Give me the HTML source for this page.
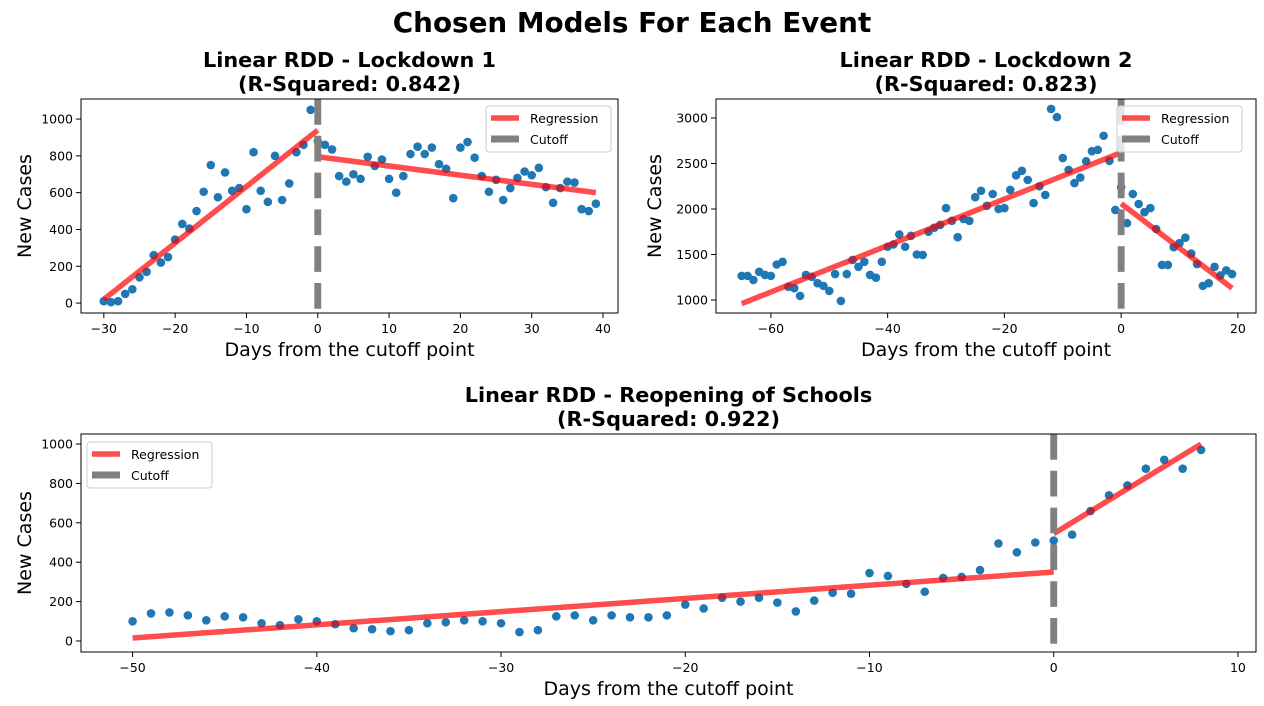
<!DOCTYPE html>
<html><head><meta charset="utf-8"><style>
html,body{margin:0;padding:0;background:#fff;}
svg{display:block;font-family:"DejaVu Sans","Liberation Sans",sans-serif;}
</style></head><body>
<svg id="fig" width="1264" height="706" viewBox="0 0 1264 706" xmlns="http://www.w3.org/2000/svg">
<text x="632" y="32" text-anchor="middle" font-size="27.8" font-weight="bold">Chosen Models For Each Event</text>
</svg>
<script>
// ---- Panel 1: Lockdown 1 ----
const days1 = [];
for (let d = -30; d <= 39; d++) days1.push(d);
const cases1 = [10,5,10,50,75,140,170,260,220,250,345,430,405,500,605,750,575,710,610,625,510,820,610,550,800,560,650,820,860,1050,
 880,860,835,690,660,700,675,795,745,780,675,600,690,810,850,810,845,755,730,570,845,875,790,690,605,670,560,625,680,715,695,735,630,545,625,660,655,510,500,540];
const regLeft1 = [[-30,20],[0,940]];
const regRight1 = [[0,795],[39,600]];
const xTicks1 = [-30,-20,-10,0,10,20,30,40];
const yTicks1 = [0,200,400,600,800,1000];

// ---- Panel 2: Lockdown 2 ----
const days2 = [];
for (let d = -65; d <= 19; d++) days2.push(d);
const cases2 = [1265,1265,1220,1310,1275,1265,1390,1420,1145,1130,1045,1275,1255,1185,1155,1100,1285,990,1285,1440,1365,1420,1275,1245,1420,
 1585,1610,1720,1585,1705,1500,1495,1750,1795,1825,2010,1870,1690,1890,1870,2130,2200,2035,2165,2000,2010,2210,2370,2420,2320,2065,2250,2155,
 3100,3010,2560,2430,2285,2345,2525,2635,2650,2805,2530,1990,
 2240,1845,2165,2055,1965,2010,1780,1385,1385,1580,1625,1685,1510,1395,1155,1185,1365,1270,1325,1285];
const regLeft2 = [[-65,960],[0,2620]];
const regRight2 = [[0,2060],[19,1130]];
const xTicks2 = [-60,-40,-20,0,20];
const yTicks2 = [1000,1500,2000,2500,3000];

// ---- Panel 3: Reopening of Schools ----
const days3 = [];
for (let d = -50; d <= 8; d++) days3.push(d);
const cases3 = [100,140,145,130,105,125,120,90,80,110,100,85,65,60,50,55,90,95,105,100,90,45,55,125,130,105,130,120,120,130,
 185,165,220,200,220,195,150,205,245,240,345,330,290,250,320,325,360,495,450,500,510,540,660,740,790,875,920,875,970];
const regLeft3 = [[-50,15],[0,350]];
const regRight3 = [[0,545],[8,1000]];
const xTicks3 = [-50,-40,-30,-20,-10,0,10];
const yTicks3 = [0,200,400,600,800,1000];

const NS = "http://www.w3.org/2000/svg";
const svg = document.getElementById("fig");
function mk(tag, attrs, parent) {
  const e = document.createElementNS(NS, tag);
  for (const k in attrs) e.setAttribute(k, attrs[k]);
  (parent || svg).appendChild(e);
  return e;
}

function panel(cfg) {
  const g = mk("g", {});
  
  
  const L = cfg.box[0], T = cfg.box[1], R = cfg.box[2], B = cfg.box[3];
  const sx = v => L + (v - cfg.xr[0]) / (cfg.xr[1] - cfg.xr[0]) * (R - L);
  const sy = v => B - (v - cfg.yr[0]) / (cfg.yr[1] - cfg.yr[0]) * (B - T);

  const t1 = mk("text", {x: (L+R)/2, y: T - 32, "text-anchor": "middle", "font-size": 20.8, "font-weight": "bold"}, g);
  t1.textContent = cfg.title1;
  
  
  const t2 = mk("text", {x: (L+R)/2, y: T - 8, "text-anchor": "middle", "font-size": 20.8, "font-weight": "bold"}, g);
  t2.textContent = cfg.title2;
  
  

  cfg.xs.forEach((d, i) => {
    const c = mk("circle", {cx: sx(d), cy: sy(cfg.ys[i]), r: 4.3, fill: "#1f77b4"}, g);
    
    
  });
  [cfg.regL, cfg.regR].forEach(seg => {
    const l = mk("line", {x1: sx(seg[0][0]), y1: sy(seg[0][1]), x2: sx(seg[1][0]), y2: sy(seg[1][1]),
      stroke: "#ff0000", "stroke-opacity": 0.7, "stroke-width": 5.5}, g);
    
    
  });
  const cl = mk("line", {x1: sx(0), y1: T, x2: sx(0), y2: B, stroke: "#808080", "stroke-width": 6.9, "stroke-dasharray": "25.7 11.1"}, g);
  
  

  const fr = mk("rect", {x: L, y: T, width: R-L, height: B-T, fill: "none", stroke: "#000", "stroke-width": 1}, g);
  
  

  cfg.xt.forEach(v => {
    const x = sx(v);
    mk("line", {x1: x, y1: B, x2: x, y2: B + 5, stroke: "#000", "stroke-width": 1}, g);
    const t = mk("text", {x: x, y: B + 20, "text-anchor": "middle", "font-size": 12.5}, g);
    t.textContent = String(v).replace("-", "\u2212");
    
    
  });
  cfg.yt.forEach(v => {
    const y = sy(v);
    mk("line", {x1: L - 5, y1: y, x2: L, y2: y, stroke: "#000", "stroke-width": 1}, g);
    const t = mk("text", {x: L - 8, y: y + 4.5, "text-anchor": "end", "font-size": 12.5}, g);
    t.textContent = String(v);
    
    
  });
  const xl = mk("text", {x: (L+R)/2, y: B + 43, "text-anchor": "middle", "font-size": 19}, g);
  xl.textContent = "Days from the cutoff point";
  
  
  const yx = cfg.ylabX, yy = (T+B)/2;
  const yl = mk("text", {x: yx, y: yy, "text-anchor": "middle", "font-size": 19, transform: `rotate(-90 ${yx} ${yy})`}, g);
  yl.textContent = "New Cases";
  
  

  const lx = cfg.leg[0], ly = cfg.leg[1];
  const lg = mk("g", {}, g);
  
  
  mk("rect", {x: lx, y: ly, width: 125, height: 46, rx: 3, fill: "#fff", "fill-opacity": 0.8, stroke: "#ccc", "stroke-width": 1}, lg);
  const e1 = mk("line", {x1: lx + 5, y1: ly + 12, x2: lx + 33, y2: ly + 12, stroke: "#ff0000", "stroke-opacity": 0.7, "stroke-width": 5.5}, lg);
  
  
  const tx1 = mk("text", {x: lx + 44, y: ly + 17, "font-size": 12.5}, lg);
  tx1.textContent = "Regression";
  
  
  const e2 = mk("line", {x1: lx + 5, y1: ly + 33, x2: lx + 33, y2: ly + 33, stroke: "#808080", "stroke-width": 6.9}, lg);
  
  
  const tx2 = mk("text", {x: lx + 44, y: ly + 38, "font-size": 12.5}, lg);
  tx2.textContent = "Cutoff";
  
  
}

panel({name: "lockdown-1-chart", box: [81, 99, 618, 313], xr: [-33.2, 42.1], yr: [-54, 1109],
  xs: days1, ys: cases1, regL: regLeft1, regR: regRight1, xt: xTicks1, yt: yTicks1,
  title1: "Linear RDD - Lockdown 1", title2: "(R-Squared: 0.842)", ylabX: 31, leg: [486, 106]});
panel({name: "lockdown-2-chart", box: [716, 99, 1256, 313], xr: [-69.4, 23.1], yr: [857, 3209],
  xs: days2, ys: cases2, regL: regLeft2, regR: regRight2, xt: xTicks2, yt: yTicks2,
  title1: "Linear RDD - Lockdown 2", title2: "(R-Squared: 0.823)", ylabX: 661, leg: [1117, 106]});
panel({name: "reopening-schools-chart", box: [81, 434, 1256, 652], xr: [-52.8, 10.98], yr: [-56, 1051],
  xs: days3, ys: cases3, regL: regLeft3, regR: regRight3, xt: xTicks3, yt: yTicks3,
  title1: "Linear RDD - Reopening of Schools", title2: "(R-Squared: 0.922)", ylabX: 31, leg: [87, 442]});
</script>
</body></html>
